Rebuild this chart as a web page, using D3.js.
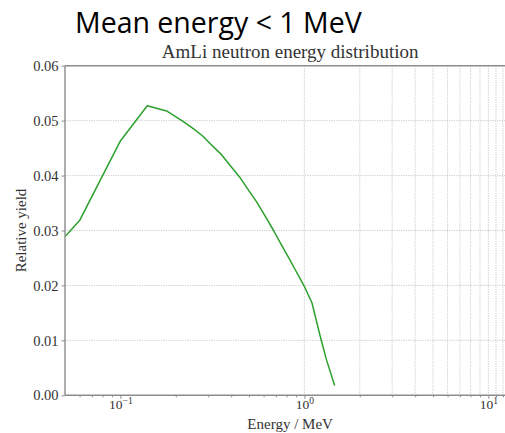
<!DOCTYPE html>
<html>
<head>
<meta charset="utf-8">
<script src="https://cdn.jsdelivr.net/npm/d3@7"></script>
<style>
  html, body { margin: 0; padding: 0; background: #fff; }
  svg { display: block; }
</style>
</head>
<body>
<svg id="chart" width="505" height="433"></svg>
<script>
// ---- data ----
const energy = [0.05, 0.06, 0.10, 0.14, 0.18, 0.22, 0.25, 0.28, 0.31, 0.35, 0.40, 0.45, 0.50, 0.55, 0.61, 0.68, 0.75, 0.83, 0.89, 0.95, 1.00, 1.10, 1.22, 1.32, 1.46];
const yieldVals = [0.0289, 0.0318, 0.0463, 0.0527, 0.0517, 0.0498, 0.0485, 0.0472, 0.0457, 0.0440, 0.0416, 0.0395, 0.0372, 0.0352, 0.0327, 0.0300, 0.0274, 0.0248, 0.0229, 0.0212, 0.0198, 0.0168, 0.0107, 0.0064, 0.0018];
const yTicks = [0.00, 0.01, 0.02, 0.03, 0.04, 0.05, 0.06];
const xMajorTicks = [0.1, 1, 10];
const xMinorTicks = [0.06, 0.07, 0.08, 0.09, 0.2, 0.3, 0.4, 0.5, 0.6, 0.7, 0.8, 0.9, 2, 3, 4, 5, 6, 7, 8, 9, 11, 12, 13];
const xGridLines = [1, 2, 3, 4, 5, 6, 7, 8, 9, 10, 11, 12, 13];
const headline = "Mean energy < 1 MeV";
const title = "AmLi neutron energy distribution";
const xLabel = "Energy / MeV";
const yLabel = "Relative yield";

(function () {
const svg = d3.select("#chart");
const pLeft = 65, pTop = 65.7, pBottom = 395.3;
const pRight = 65 + 184 * Math.log10(14 / 0.05);

const x = d3.scaleLog().domain([0.05, 14]).range([pLeft, pRight]);
const y = d3.scaleLinear().domain([0, 0.06]).range([pBottom, pTop]);

const serif = "'Liberation Serif', 'DejaVu Serif', serif";

// headline
svg.append("text")
  .attr("x", 75).attr("y", 33)
  .attr("font-family", "'Open Sans', 'Noto Sans', sans-serif")
  .attr("font-size", 28.5)
  .attr("fill", "#000")
  .text(headline);

const plot = svg.append("g");
plot.append("clipPath").attr("id", "clip")
  .append("rect").attr("x", pLeft).attr("y", pTop).attr("width", pRight - pLeft).attr("height", pBottom - pTop);

// grid
const grid = plot.append("g").attr("clip-path", "url(#clip)");
grid.selectAll("line.hg").data(yTicks.slice(1, -1)).join("line")
  .attr("x1", pLeft).attr("x2", pRight)
  .attr("y1", d => y(d)).attr("y2", d => y(d))
  .attr("stroke", "#bdbdbd").attr("stroke-width", 0.8).attr("stroke-dasharray", "1.2,1.2");
grid.selectAll("line.vg").data(xGridLines).join("line")
  .attr("x1", d => x(d)).attr("x2", d => x(d))
  .attr("y1", pTop).attr("y2", pBottom)
  .attr("stroke", "#bdbdbd").attr("stroke-width", 0.8).attr("stroke-dasharray", "1.2,1.2");

// curve
const line = d3.line().x((d, i) => x(energy[i])).y(d => y(d));
plot.append("path").datum(yieldVals)
  .attr("clip-path", "url(#clip)")
  .attr("d", line)
  .attr("fill", "none")
  .attr("stroke", "#2ca02c")
  .attr("stroke-width", 1.5)
  .attr("stroke-linejoin", "round");

// spines
const spineColor = "#8c8c8c";
plot.append("line").attr("x1", pLeft).attr("x2", pLeft).attr("y1", pTop).attr("y2", pBottom)
  .attr("stroke", spineColor).attr("stroke-width", 1.4);
plot.append("line").attr("x1", pLeft).attr("x2", pRight).attr("y1", pBottom).attr("y2", pBottom)
  .attr("stroke", spineColor).attr("stroke-width", 1.4);
plot.append("line").attr("x1", pLeft).attr("x2", pRight).attr("y1", pTop).attr("y2", pTop)
  .attr("stroke", spineColor).attr("stroke-width", 1.4);

// y axis
const yAxis = d3.axisLeft(y).tickValues(yTicks).tickFormat(d3.format(".2f")).tickSize(3.5).tickPadding(3);
const gy = svg.append("g").attr("transform", `translate(${pLeft},0)`).call(yAxis);
gy.select(".domain").remove();
gy.selectAll(".tick line").attr("stroke", spineColor);
gy.selectAll(".tick text").attr("font-family", serif).attr("font-size", 14.5).attr("fill", "#333");

// x axis major
const xAxis = d3.axisBottom(x).tickValues(xMajorTicks).tickFormat(() => "").tickSize(3.5);
const gx = svg.append("g").attr("transform", `translate(0,${pBottom})`).call(xAxis);
gx.select(".domain").remove();
gx.selectAll(".tick line").attr("stroke", spineColor);
const exps = {0.1: "\u22121", 1: "0", 10: "1"};
gx.selectAll(".tick text").each(function (d) {
  const t = d3.select(this).attr("font-family", serif).attr("font-size", 13.5).attr("fill", "#333").attr("y", 14).attr("dy", null);
  t.text(null);
  t.append("tspan").text("10");
  t.append("tspan").attr("font-size", 9.5).attr("dy", -5.5).text(exps[d]);
});
// x minor ticks
const xMinor = d3.axisBottom(x).tickValues(xMinorTicks).tickFormat(() => "").tickSize(2);
const gxm = svg.append("g").attr("transform", `translate(0,${pBottom})`).call(xMinor);
gxm.select(".domain").remove();
gxm.selectAll(".tick line").attr("stroke", spineColor);

// title and labels
svg.append("text").attr("x", (pLeft + pRight) / 2).attr("y", 58)
  .attr("text-anchor", "middle").attr("font-family", serif).attr("font-size", 19).attr("fill", "#333")
  .text(title);
svg.append("text").attr("x", (pLeft + pRight) / 2).attr("y", 429)
  .attr("text-anchor", "middle").attr("font-family", serif).attr("font-size", 15).attr("fill", "#333")
  .text(xLabel);
svg.append("text").attr("transform", `translate(26,${(pTop + pBottom) / 2}) rotate(-90)`)
  .attr("text-anchor", "middle").attr("font-family", serif).attr("font-size", 15).attr("fill", "#333")
  .text(yLabel);
})();
</script>
</body>
</html>
